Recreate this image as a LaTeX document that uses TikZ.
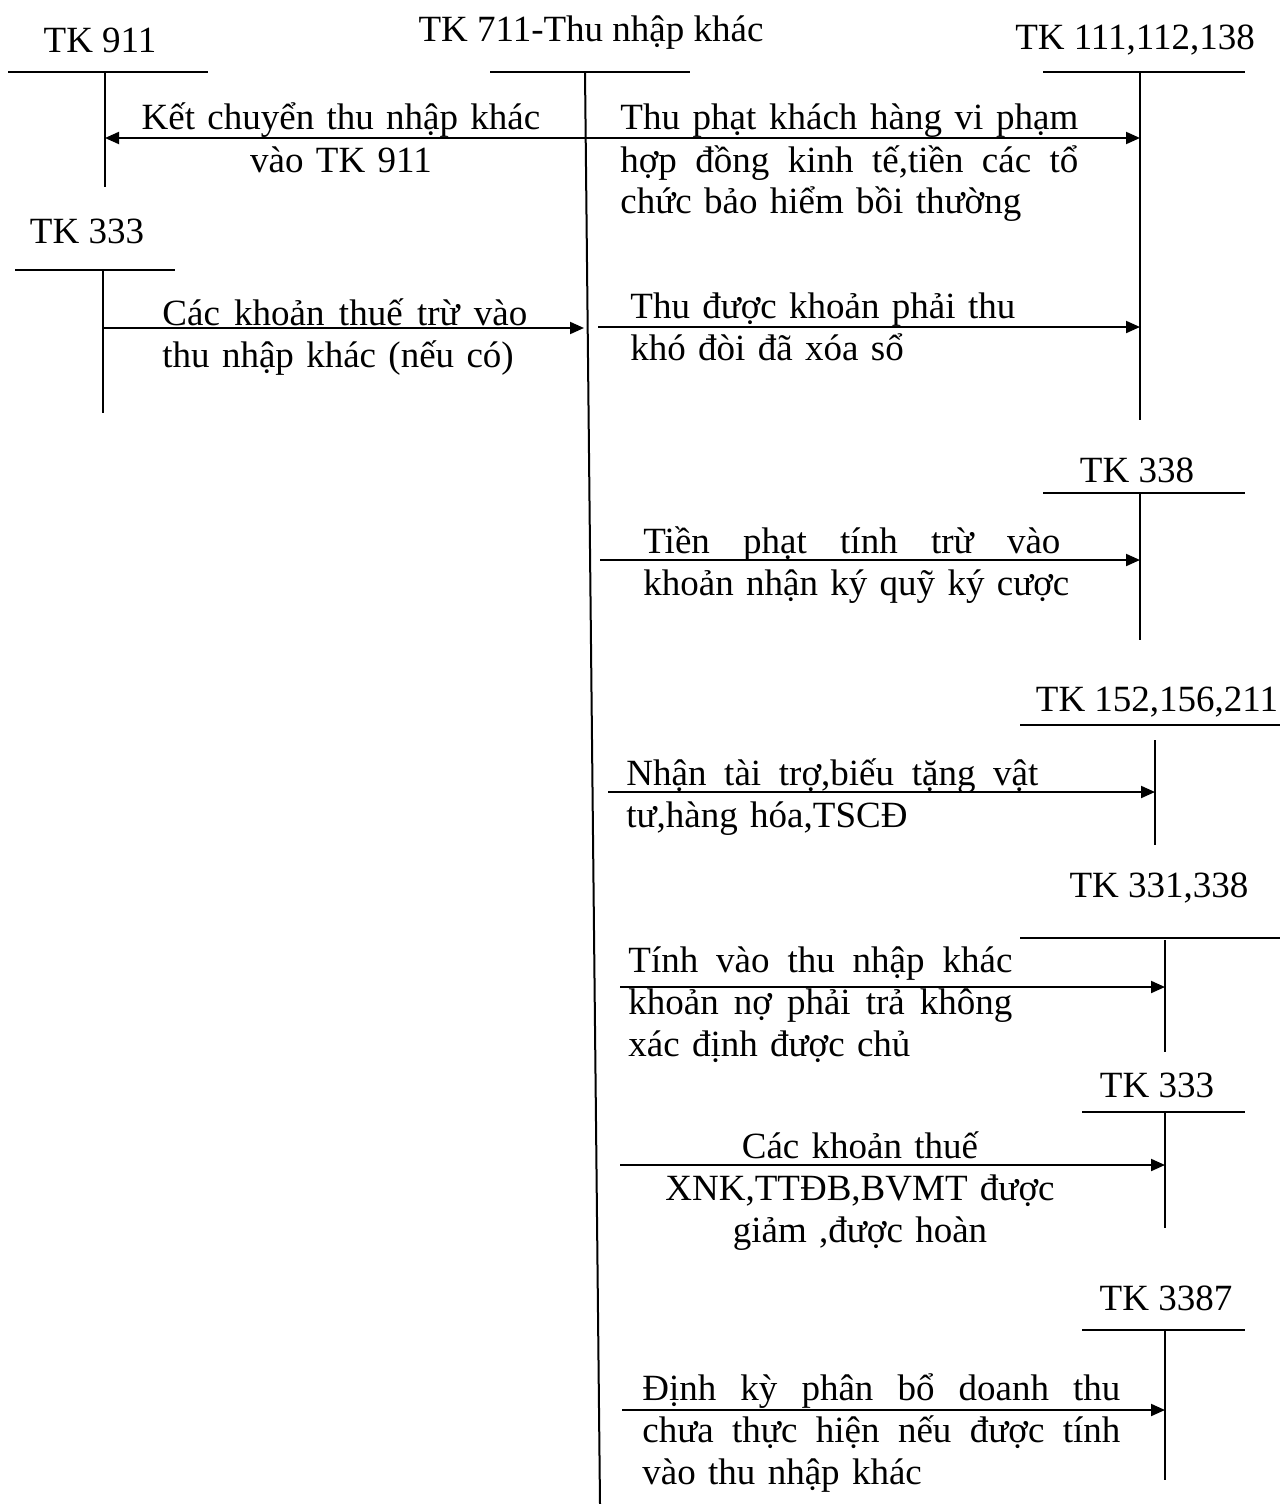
\documentclass[tikz,border=0pt]{standalone}
\usepackage{fontspec}
\setmainfont{Liberation Serif}
\usetikzlibrary{arrows.meta}
\newcommand{\jl}[2]{\leavevmode\hbox to #1{\spaceskip=.25em plus 1fil\relax #2}}
\begin{document}
\begin{tikzpicture}[x=0.5pt,y=-0.5pt,
  acct/.style={line width=1pt},
  flow/.style={line width=1pt,-{Triangle[length=7pt,width=6pt]}},
  lbl/.style={inner sep=0pt,anchor=base,font=\fontsize{18.5}{21}\selectfont},
  para/.style={inner sep=0pt,anchor=base west,align=left,text width=320pt,font=\fontsize{18.5}{21}\selectfont},
  cpara/.style={inner sep=0pt,anchor=base,align=center,text width=300pt,font=\fontsize{18.5}{21}\selectfont},
]
\useasboundingbox (0,0) rectangle (1280,1504);

% ---- T accounts ----
% TK 911
\node[lbl] (t911) at (100,53) {TK 911};
\draw[acct] (8,72) -- (208,72);
\coordinate (v911a) at (105,72);
\coordinate (v911b) at (105,187);
\draw[acct] (v911a) -- (v911b);

% TK 711 (main)
\node[lbl] (t711) at (591,42) {TK 711-Thu nhập khác};
\draw[acct] (490,72) -- (690,72);
\coordinate (v711a) at (585,72);
\coordinate (v711b) at (600,1504);
\draw[acct] (v711a) -- (v711b);

% TK 111,112,138
\node[lbl] (t111) at (1135,50) {TK 111,112,138};
\draw[acct] (1043,72) -- (1245,72);
\draw[acct] (1140,72) -- (1140,420);

% TK 333 (left)
\node[lbl] (t333l) at (87,243) {TK 333};
\draw[acct] (15,270) -- (175,270);
\draw[acct] (103,270) -- (103,413);

% TK 338
\node[lbl] (t338) at (1137,482) {TK 338};
\draw[acct] (1043,493) -- (1245,493);
\draw[acct] (1140,493) -- (1140,640);

% TK 152,156,211
\node[lbl] (t152) at (1157,711) {TK 152,156,211};
\draw[acct] (1020,725) -- (1280,725);
\draw[acct] (1155,740) -- (1155,845);

% TK 331,338
\node[lbl] (t331) at (1159,897) {TK 331,338};
\draw[acct] (1020,938) -- (1280,938);
\draw[acct] (1165,940) -- (1165,1052);

% TK 333 (right)
\node[lbl] (t333r) at (1157,1097) {TK 333};
\draw[acct] (1082,1112) -- (1245,1112);
\draw[acct] (1165,1112) -- (1165,1228);

% TK 3387
\node[lbl] (t3387) at (1166,1310) {TK 3387};
\draw[acct] (1082,1330) -- (1245,1330);
\draw[acct] (1165,1330) -- (1165,1480);

% ---- flows ----
\coordinate (a1s) at (585,138);
\coordinate (a1e) at (105,138);
\draw[flow] (a1s) -- (a1e);
\node[cpara] (l1) at (341,130) {Kết chuyển thu nhập khác\\vào TK 911};

\coordinate (a2e) at (1140,138);
\draw[flow] (a1s) -- (a2e);
\node[para] (l2) at (620,130) {\jl{229pt}{Thu phạt khách hàng vi phạm}\\\jl{229pt}{hợp đồng kinh tế,tiền các tổ}\\chức bảo hiểm bồi thường};

\coordinate (a3s) at (103,328);
\coordinate (a3e) at (584,328);
\draw[flow] (a3s) -- (a3e);
\node[para] (l3) at (162,325) {\jl{182.5pt}{Các khoản thuế trừ vào}\\thu nhập khác (nếu có)};

\coordinate (a4s) at (598,327);
\coordinate (a4e) at (1140,327);
\draw[flow] (a4s) -- (a4e);
\node[para] (l4) at (630,318) {Thu được khoản phải thu\\khó đòi đã xóa sổ};

\coordinate (a5s) at (600,560);
\coordinate (a5e) at (1140,560);
\draw[flow] (a5s) -- (a5e);
\node[para] (l5) at (643,553) {\jl{208.5pt}{Tiền phạt tính trừ vào}\\khoản nhận ký quỹ ký cược};

\coordinate (a6s) at (608,792);
\coordinate (a6e) at (1155,792);
\draw[flow] (a6s) -- (a6e);
\node[para] (l6) at (626,785) {\jl{206pt}{Nhận tài trợ,biếu tặng vật}\\tư,hàng hóa,TSCĐ};

\coordinate (a7s) at (620,987);
\coordinate (a7e) at (1165,987);
\draw[flow] (a7s) -- (a7e);
\node[para] (l7) at (628,972) {\jl{192pt}{Tính vào thu nhập khác}\\\jl{192pt}{khoản nợ phải trả không}\\xác định được chủ};

\coordinate (a8s) at (620,1165);
\coordinate (a8e) at (1165,1165);
\draw[flow] (a8s) -- (a8e);
\node[cpara] (l8) at (860,1158) {Các khoản thuế\\XNK,TTĐB,BVMT được\\giảm ,được hoàn};

\coordinate (a9s) at (622,1410);
\coordinate (a9e) at (1165,1410);
\draw[flow] (a9s) -- (a9e);
\node[para] (l9) at (642,1400) {\jl{239pt}{Định kỳ phân bổ doanh thu}\\\jl{239pt}{chưa thực hiện nếu được tính}\\vào thu nhập khác};
\end{tikzpicture}
\end{document}
